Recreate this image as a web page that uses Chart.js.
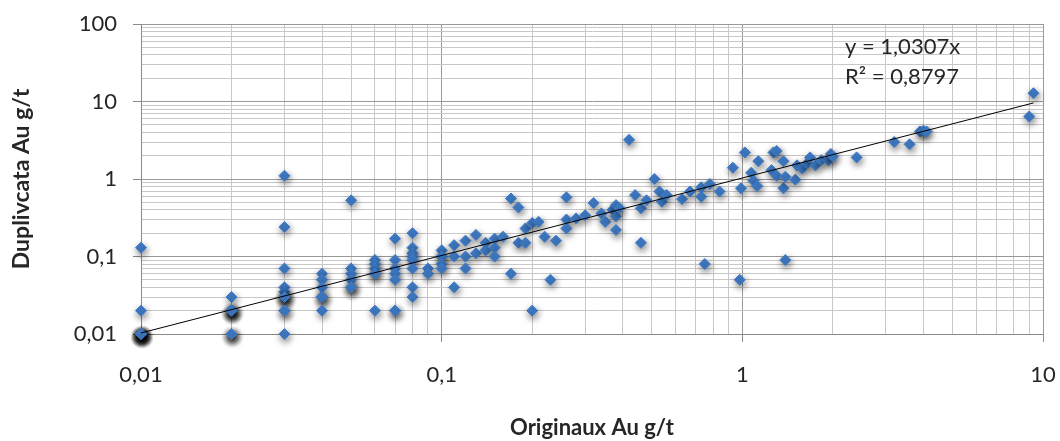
<!DOCTYPE html>
<html>
<head>
<meta charset="utf-8">
<script src="https://cdn.jsdelivr.net/npm/chart.js@4.4.1/dist/chart.umd.min.js"></script>
<style>
  html, body { margin: 0; padding: 0; background: #ffffff; }
</style>
</head>
<body>
<canvas id="grafico_au" width="1060" height="441"></canvas>
<script>
// Originaux (x) / Duplicata (y), Au g/t - une ligne par groupe de valeurs
var origX = [
  0.01, 0.01, 0.01, 0.01, 0.01, 0.01, 0.01, 0.01, 0.01, 0.01, 0.01, 0.01, 0.01, 0.01, 0.01, 0.01,
  0.02, 0.02, 0.02, 0.02, 0.02, 0.02, 0.02, 0.02, 0.02, 0.02, 0.02, 0.02,
  0.03, 0.03, 0.03, 0.03, 0.03, 0.03, 0.03, 0.03, 0.03, 0.03, 0.03, 0.03, 0.03,
  0.04, 0.04, 0.04, 0.04, 0.04, 0.04, 0.04,
  0.05, 0.05, 0.05, 0.05, 0.05, 0.05, 0.05,
  0.06, 0.06, 0.06, 0.06, 0.06, 0.06,
  0.07, 0.07, 0.07, 0.07, 0.07, 0.07, 0.07,
  0.08, 0.08, 0.08, 0.08, 0.08, 0.08, 0.08, 0.08,
  0.09, 0.09,
  0.1, 0.1, 0.1, 0.1, 0.1,
  0.11, 0.11, 0.11, 0.12, 0.12, 0.12, 0.13, 0.13, 0.14, 0.14, 0.15, 0.15, 0.15, 0.16, 0.17, 0.17,
  0.18, 0.18, 0.19, 0.19, 0.2, 0.2, 0.21, 0.22, 0.23, 0.24, 0.26, 0.26, 0.26, 0.28, 0.3, 0.32,
  0.34, 0.35, 0.37, 0.38, 0.38, 0.38, 0.39,
  0.42, 0.44, 0.46, 0.46, 0.48, 0.51, 0.53, 0.54, 0.56, 0.63, 0.67, 0.73, 0.73, 0.75, 0.78, 0.84,
  0.93, 0.98, 0.99,
  1.02, 1.07, 1.09, 1.12, 1.13, 1.25, 1.27, 1.3, 1.3, 1.37, 1.37, 1.39, 1.39, 1.5, 1.52, 1.58,
  1.64, 1.68, 1.75, 1.83, 1.93, 1.97, 2.0,
  2.4, 3.2, 3.6, 3.9, 4.0, 4.1, 9.0, 9.3
];
var dupY = [
  0.13, 0.02, 0.01, 0.01, 0.01, 0.01, 0.01, 0.01, 0.01, 0.01, 0.01, 0.01, 0.01, 0.01, 0.01, 0.01,
  0.03, 0.02, 0.02, 0.02, 0.02, 0.02, 0.02, 0.02, 0.01, 0.01, 0.01, 0.01,
  1.1, 0.24, 0.07, 0.04, 0.035, 0.03, 0.03, 0.03, 0.03, 0.03, 0.02, 0.02, 0.01,
  0.06, 0.05, 0.04, 0.03, 0.03, 0.03, 0.02,
  0.53, 0.07, 0.06, 0.05, 0.04, 0.04, 0.04,
  0.09, 0.08, 0.07, 0.06, 0.06, 0.02,
  0.17, 0.09, 0.07, 0.06, 0.05, 0.02, 0.02,
  0.2, 0.13, 0.11, 0.1, 0.09, 0.07, 0.04, 0.03,
  0.07, 0.06,
  0.12, 0.1, 0.1, 0.08, 0.07,
  0.14, 0.1, 0.04, 0.16, 0.1, 0.07, 0.19, 0.11, 0.15, 0.12, 0.17, 0.13, 0.1, 0.18, 0.56, 0.06,
  0.43, 0.15, 0.23, 0.15, 0.27, 0.02, 0.28, 0.18, 0.05, 0.16, 0.58, 0.3, 0.23, 0.31, 0.34, 0.49,
  0.36, 0.28, 0.4, 0.46, 0.33, 0.22, 0.42,
  3.2, 0.62, 0.42, 0.15, 0.53, 1.0, 0.69, 0.51, 0.62, 0.55, 0.69, 0.78, 0.59, 0.08, 0.86, 0.69,
  1.4, 0.05, 0.76,
  2.2, 1.2, 0.95, 0.81, 1.7, 1.3, 2.2, 2.3, 1.1, 1.7, 0.76, 0.09, 1.07, 0.98, 1.5, 1.37,
  1.58, 1.9, 1.5, 1.75, 1.75, 2.1, 1.95,
  1.9, 3.0, 2.8, 4.1, 4.2, 4.1, 6.4, 12.8
];

var xTickValues = [0.01, 0.1, 1, 10];
var xTickLabels = ['0,01', '0,1', '1', '10'];
var yTickValues = [0.01, 0.1, 1, 10, 100];
var yTickLabels = ['0,01', '0,1', '1', '10', '100'];

var pente = 1.0307;
var equationTxt = 'y = 1,0307x';
var r2Txt = 'R\u00b2 = 0,8797';

// graduations 1..9 x 10^n pour la grille secondaire
function ticksLog(scale) {
  var out = [];
  var e0 = Math.round(Math.log10(scale.min));
  var e1 = Math.round(Math.log10(scale.max));
  for (var e = e0; e < e1; e++) {
    for (var m = 1; m < 10; m++) {
      var v = parseFloat((m * Math.pow(10, e)).toPrecision(4));
      out.push({ value: v, major: m === 1 });
    }
  }
  out.push({ value: scale.max, major: true });
  scale.ticks = out;
}

function etiquette(valores, textos) {
  return function(value) {
    for (var i = 0; i < valores.length; i++) {
      if (Math.abs(valores[i] - value) / valores[i] < 1e-6) return textos[i];
    }
    return '';
  };
}

var puntos = origX.map(function(x, i) { return { x: x, y: dupY[i] }; });
var xMaxDatos = Math.max.apply(null, origX);
var xMinDatos = Math.min.apply(null, origX);

var sombraPlugin = {
  id: 'sombra',
  beforeDatasetDraw: function(chart, args) {
    if (args.index !== 1) return;
    var ctx = chart.ctx;
    ctx.save();
    ctx.shadowColor = 'rgba(0,0,0,0.55)';
    ctx.shadowBlur = 7;
    ctx.shadowOffsetX = 1;
    ctx.shadowOffsetY = 3;
  },
  afterDatasetDraw: function(chart, args) {
    if (args.index !== 1) return;
    chart.ctx.restore();
  }
};

var ecuacionPlugin = {
  id: 'ecuacion',
  afterDraw: function(chart) {
    var ctx = chart.ctx;
    ctx.save();
    ctx.font = '22px Lato';
    ctx.fillStyle = '#262626';
    ctx.textAlign = 'left';
    ctx.textBaseline = 'middle';
    ctx.fillText(equationTxt, 845, 47);
    ctx.fillText(r2Txt, 845, 77);
    ctx.restore();
  }
};

Chart.defaults.font.family = 'Lato';
Chart.defaults.color = '#262626';

var colorGrid = function(c) { return c.tick && c.tick.major ? '#9a9a9a' : '#c8c8c8'; };
var colorTick = function(c) { return c.tick && c.tick.major ? '#8a8a8a' : 'rgba(0,0,0,0)'; };

var ctxAu = document.getElementById('grafico_au').getContext('2d');
var graficoAu = new Chart(ctxAu, {
  type: 'scatter',
  data: {
    datasets: [{
      type: 'line',
      label: 'Tendance',
      data: [
        { x: xMinDatos, y: pente * xMinDatos },
        { x: xMaxDatos, y: pente * xMaxDatos }
      ],
      borderColor: '#000000',
      borderWidth: 1,
      pointRadius: 0,
      fill: false,
      clip: false
    }, {
      label: 'Duplicata',
      data: puntos,
      pointStyle: 'rectRot',
      pointRadius: 5.5,
      pointBackgroundColor: '#3f7bc6',
      pointBorderColor: '#3f7bc6',
      pointBorderWidth: 1,
      clip: false
    }]
  },
  options: {
    responsive: false,
    animation: false,
    layout: { padding: { top: 24, right: 17, left: 0, bottom: 0 } },
    plugins: {
      legend: { display: false },
      tooltip: { enabled: false }
    },
    scales: {
      x: {
        type: 'logarithmic',
        min: 0.01,
        max: 10,
        afterBuildTicks: ticksLog,
        afterFit: function(s) { s.height = 107; s.paddingLeft = 0; s.paddingRight = 0; },
        grid: { color: colorGrid, tickColor: colorTick, tickLength: 8 },
        border: { color: '#8a8a8a' },
        ticks: {
          autoSkip: false,
          maxRotation: 0,
          padding: 20,
          font: { size: 22 },
          callback: etiquette(xTickValues, xTickLabels)
        },
        title: {
          display: true,
          text: 'Originaux Au g/t',
          font: { size: 22, weight: 'bold' },
          padding: { top: 0, bottom: 0 }
        }
      },
      y: {
        type: 'logarithmic',
        min: 0.01,
        max: 100,
        afterBuildTicks: ticksLog,
        afterFit: function(s) { s.width = 141; s.paddingTop = 0; s.paddingBottom = 0; },
        grid: { color: colorGrid, tickColor: colorTick, tickLength: 8 },
        border: { color: '#8a8a8a' },
        ticks: {
          autoSkip: false,
          padding: 16,
          font: { size: 22 },
          callback: etiquette(yTickValues, yTickLabels)
        },
        title: {
          display: true,
          text: 'Duplivcata Au g/t',
          font: { size: 23, weight: 'bold' },
          padding: { top: 8, bottom: 0 }
        }
      }
    }
  },
  plugins: [sombraPlugin, ecuacionPlugin]
});
</script>
</body>
</html>
